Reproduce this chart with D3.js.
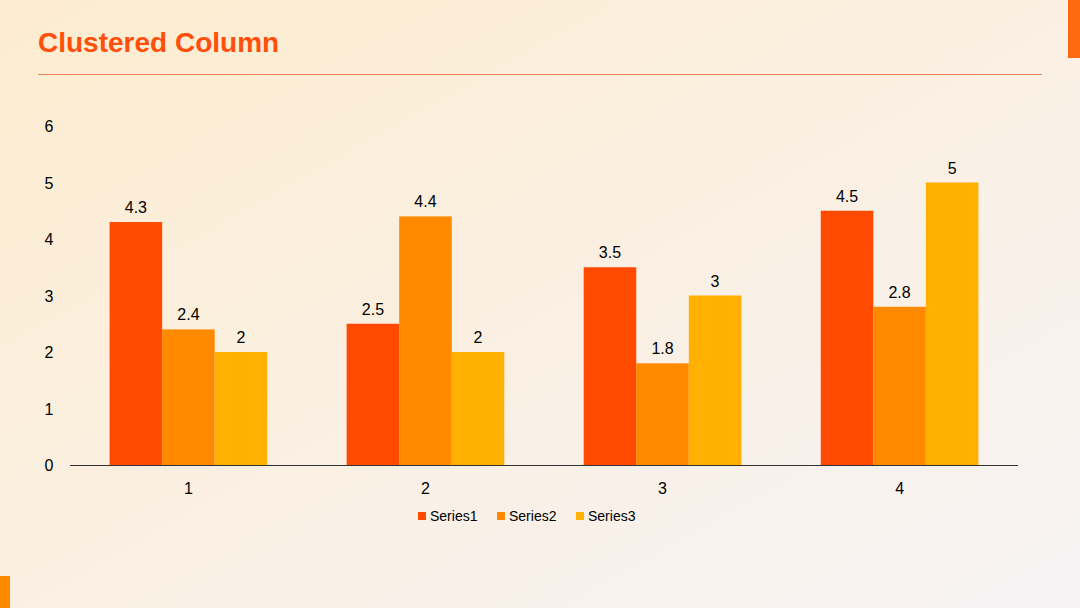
<!DOCTYPE html><html><head><meta charset="utf-8">
<script src="https://cdn.jsdelivr.net/npm/d3@7"></script>
<style>body{margin:0}svg{display:block;font-family:"Liberation Sans",Arial,sans-serif}</style></head><body>
<svg id="c" width="1080" height="608"></svg>
<script>
const categories=["1","2","3","4"];
const seriesNames=["Series1","Series2","Series3"];
const series1=[4.3,2.5,3.5,4.5];
const series2=[2.4,4.4,1.8,2.8];
const series3=[2,2,3,5];
const yTicks=[0,1,2,3,4,5,6];
const colors=["#FF4A00","#FF8A00","#FFB000"];
const data=[series1,series2,series3];
const svg=d3.select("#c");
const defs=svg.append("defs");
const g0=defs.append("linearGradient").attr("id","bg").attr("x1","0").attr("y1","0").attr("x2","1").attr("y2","1");
g0.append("stop").attr("offset","0").attr("stop-color","#fdeccf");
g0.append("stop").attr("offset","1").attr("stop-color","#f7f3f5");
svg.append("rect").attr("width",1080).attr("height",608).attr("fill","url(#bg)");
svg.append("rect").attr("x",1068).attr("y",0).attr("width",12).attr("height",58).attr("fill","#FF6A10");
svg.append("rect").attr("x",0).attr("y",576).attr("width",10).attr("height",32).attr("fill","#FF8A00");
svg.append("text").attr("x",38).attr("y",52).attr("fill","#FF4F0A").attr("font-size",28).attr("font-weight","bold").text("Clustered Column");
svg.append("line").attr("x1",38).attr("x2",1042).attr("y1",74.5).attr("y2",74.5).attr("stroke","#E8825A").attr("stroke-width",1);
const x=d3.scaleBand().domain(categories).range([70,1018]).paddingInner(0.335).paddingOuter(0.167);
const xs=d3.scaleBand().domain(seriesNames).range([0,x.bandwidth()]);
const y=d3.scaleLinear().domain([0,6]).range([465,126]);
yTicks.forEach(t=>svg.append("text").attr("x",49).attr("y",y(t)+6).attr("text-anchor","middle").attr("font-size",16).attr("fill","#000").text(t));
seriesNames.forEach((s,i)=>{
  categories.forEach((c,j)=>{
    const v=data[i][j];
    svg.append("rect").attr("x",x(c)+xs(s)).attr("y",y(v)).attr("width",xs.bandwidth()).attr("height",y(0)-y(v)).attr("fill",colors[i]);
    svg.append("text").attr("x",x(c)+xs(s)+xs.bandwidth()/2).attr("y",y(v)-9).attr("text-anchor","middle").attr("font-size",16).attr("fill","#000").text(v);
  });
});
svg.append("line").attr("x1",70).attr("x2",1018).attr("y1",465.5).attr("y2",465.5).attr("stroke","#333");
categories.forEach(c=>svg.append("text").attr("x",x(c)+x.bandwidth()/2).attr("y",494).attr("text-anchor","middle").attr("font-size",16).text(c));
const lx=[418,497,576];
seriesNames.forEach((s,i)=>{
  svg.append("rect").attr("x",lx[i]).attr("y",512).attr("width",8).attr("height",8).attr("fill",colors[i]);
  svg.append("text").attr("x",lx[i]+12).attr("y",521).attr("font-size",14).text(s);
});
</script></body></html>
